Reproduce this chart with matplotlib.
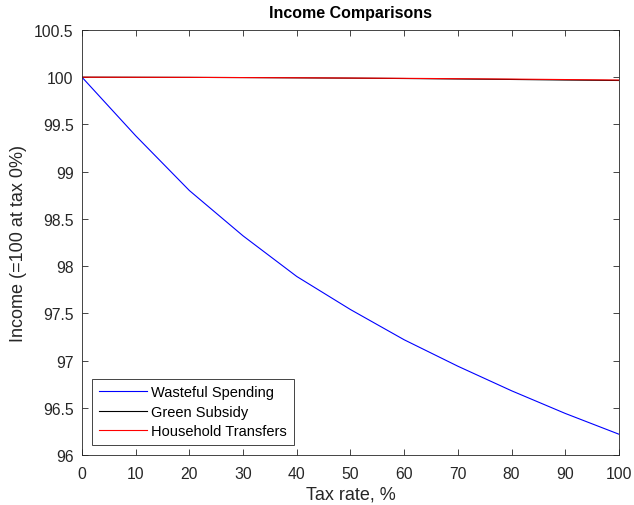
import numpy as np
import matplotlib
matplotlib.use('Agg')
import matplotlib.pyplot as plt

plt.rcParams['font.family'] = ['Liberation Sans', 'DejaVu Sans']

# data
tax = [0, 10, 20, 30, 40, 50, 60, 70, 80, 90, 100]
wasteful = [100, 99.38, 98.80, 98.32, 97.89, 97.54, 97.22, 96.94, 96.68, 96.44, 96.22]
green = [100, 99.999, 99.998, 99.996, 99.993, 99.990, 99.986, 99.981, 99.976, 99.970, 99.965]
household = [100, 99.999, 99.998, 99.996, 99.994, 99.991, 99.988, 99.984, 99.980, 99.975, 99.970]

fig = plt.figure(figsize=(6.34, 5.06), dpi=100)
ax = fig.add_axes([0.1293, 0.0988, 0.847, 0.84])

ax.plot(tax, wasteful, color='#0000ff', lw=0.8, label='Wasteful Spending')
ax.plot(tax, green, color='black', lw=0.8, label='Green Subsidy')
ax.plot(tax, household, color='#ff0000', lw=0.8, label='Household Transfers')

ax.set_xlim(0, 100)
ax.set_ylim(96, 100.5)
ax.set_xticks(np.arange(0, 101, 10))
ax.set_yticks(np.arange(96, 100.51, 0.5))
ax.set_yticklabels(['96', '96.5', '97', '97.5', '98', '98.5', '99', '99.5', '100', '100.5'])

ax.tick_params(direction='in', top=True, right=True, length=4, width=0.6,
               color='#262626', labelcolor='#262626', labelsize=11.3)
ax.tick_params(axis='x', pad=8)
ax.tick_params(axis='y', pad=6)
for s in ax.spines.values():
    s.set_linewidth(0.6)
    s.set_color('#262626')

ax.set_xlabel('Tax rate, %', fontsize=13, color='#262626', labelpad=3)
ax.set_ylabel('Income (=100 at tax 0%)', fontsize=13, color='#262626', labelpad=5)
ax.set_title('Income Comparisons', fontsize=11.5, fontweight='bold', pad=9)

leg = ax.legend(loc='lower left', fontsize=10.5, handlelength=3.3, fancybox=False,
                edgecolor='#262626', framealpha=1, borderaxespad=0.7,
                labelspacing=0.38, handletextpad=0.3, borderpad=0.45)
leg.get_frame().set_linewidth(0.6)

fig.savefig('out.png', dpi=100)
